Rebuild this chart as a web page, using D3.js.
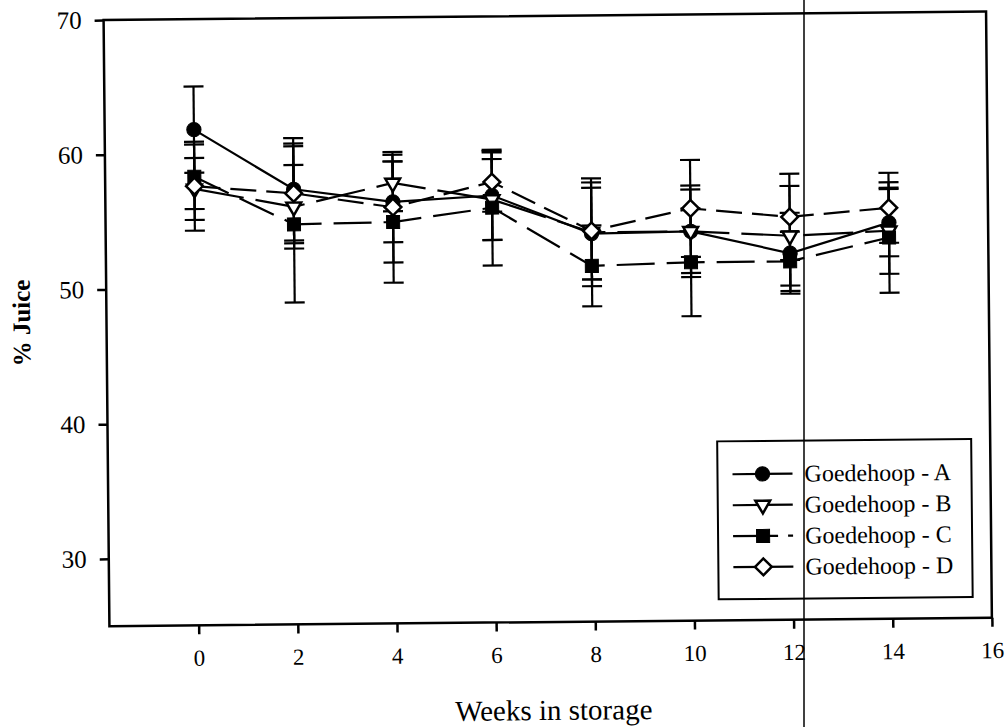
<!DOCTYPE html>
<html>
<head>
<meta charset="utf-8">
<script src="https://cdn.jsdelivr.net/npm/d3@7"></script>
<style>
  html, body { margin: 0; padding: 0; background: #fff; }
  svg { display: block; }
  text { font-family: "Liberation Serif", "Times New Roman", serif; fill: #000; }
</style>
</head>
<body>
<svg id="chart" width="1005" height="727"></svg>
<script>
// Storage weeks (x) and tick labels
const weeks = [0, 2, 4, 6, 8, 10, 12, 14];
const xTicks = [0, 2, 4, 6, 8, 10, 12, 14, 16];
const yTicks = [30, 40, 50, 60, 70];

// Series names
const seriesNames = ["Goedehoop - A", "Goedehoop - B", "Goedehoop - C", "Goedehoop - D"];

// Mean % juice per week
const juiceA = [61.8, 57.3, 56.3, 56.7, 53.8, 53.9, 52.2, 54.4];
const juiceB = [57.4, 56.0, 57.7, 56.4, 53.9, 53.9, 53.5, 53.8];
const juiceC = [58.3, 54.7, 54.8, 55.8, 51.4, 51.6, 51.6, 53.3];
const juiceD = [57.6, 57.0, 55.9, 57.7, 54.0, 55.6, 54.9, 55.5];

// Error (± half-range of the bars)
const errA = [3.2, 3.8, 3.0, 3.3, 3.4, 3.4, 3.0, 2.5];
const errB = [2.3, 3.1, 2.1, 3.0, 4.0, 3.1, 3.7, 3.2];
const errC = [2.4, 5.8, 4.5, 4.3, 3.0, 4.0, 2.2, 4.1];
const errD = [3.3, 3.7, 4.1, 2.2, 3.6, 3.6, 3.2, 2.6];

const series = [
  { name: seriesNames[0], values: juiceA, errors: errA },
  { name: seriesNames[1], values: juiceB, errors: errB },
  { name: seriesNames[2], values: juiceC, errors: errC },
  { name: seriesNames[3], values: juiceD, errors: errD }
];

// Visual style per series
const styles = [
  { dash: null,    symbol: "circle" },
  { dash: "50,12", symbol: "triangleDown" },
  { dash: "38,12", symbol: "square" },
  { dash: "26,10", symbol: "diamond" }
];

const W = 1005, H = 727;
const svg = d3.select("#chart");
svg.append("rect").attr("width", W).attr("height", H).attr("fill", "#fff");

const plot = { left: 106.5, right: 989, top: 15.8, bottom: 622 };
const x = d3.scaleLinear().domain([-1.8, 16]).range([plot.left, plot.right]);
const y = d3.scaleLinear().domain([25, 70]).range([plot.bottom, plot.top]);

// whole figure sits slightly tilted on the page
const g = svg.append("g").attr("transform", "rotate(-0.55 547 320)");

// frame
g.append("rect")
  .attr("x", plot.left).attr("y", plot.top)
  .attr("width", plot.right - plot.left).attr("height", plot.bottom - plot.top)
  .attr("fill", "none").attr("stroke", "#000").attr("stroke-width", 2.5);

// axes
const xAxis = d3.axisBottom(x).tickValues(xTicks).tickSize(9).tickPadding(15).tickFormat(d3.format("d"));
const yAxis = d3.axisLeft(y).tickValues(yTicks).tickSize(9).tickPadding(13).tickFormat(d3.format("d"));

const gx = g.append("g").attr("transform", `translate(0,${plot.bottom})`).call(xAxis);
const gy = g.append("g").attr("transform", `translate(${plot.left},0)`).call(yAxis);
[[gx, 23], [gy, 25]].forEach(([a, fs]) => {
  a.attr("font-size", null).attr("font-family", null);
  a.select(".domain").remove();
  a.selectAll(".tick line").attr("stroke", "#000").attr("stroke-width", 2.5);
  a.selectAll(".tick text")
    .attr("fill", "#000")
    .attr("font-size", fs)
    .style("font-family", '"Liberation Serif", "Times New Roman", serif')
    .style("font-size", fs + "px");
});

// axis titles
g.append("text")
  .attr("x", 550).attr("y", 720)
  .attr("text-anchor", "middle")
  .style("font-size", "29px")
  .text("Weeks in storage");

g.append("text")
  .attr("transform", "translate(30,318) rotate(-90)")
  .attr("text-anchor", "middle")
  .style("font-size", "25px")
  .style("font-weight", "bold")
  .text("% Juice");

// marker shapes
function markerPath(kind) {
  switch (kind) {
    case "circle": return d3.symbol(d3.symbolCircle, 160)();
    case "square": return d3.symbol(d3.symbolSquare, 170)();
    case "diamond": return d3.symbol(d3.symbolSquare, 140)();
    case "triangleDown": return d3.symbol(d3.symbolTriangle, 95)();
  }
}
function markerTransform(kind, px, py) {
  if (kind === "diamond") return `translate(${px},${py}) rotate(45)`;
  if (kind === "triangleDown") return `translate(${px},${py}) rotate(180)`;
  return `translate(${px},${py})`;
}
function drawMarker(sel, kind, px, py) {
  const filled = kind === "circle" || kind === "square";
  sel.append("path")
    .attr("d", markerPath(kind))
    .attr("transform", markerTransform(kind, px, py))
    .attr("fill", filled ? "#000" : "#fff")
    .attr("stroke", "#000")
    .attr("stroke-width", filled ? 1 : 2.5);
}

const line = d3.line().x(d => x(d.w)).y(d => y(d.v));

// connecting lines
series.forEach((s, i) => {
  const pts = weeks.map((w, k) => ({ w, v: s.values[k] }));
  g.append("path")
    .datum(pts)
    .attr("d", line)
    .attr("fill", "none")
    .attr("stroke", "#000")
    .attr("stroke-width", 2.2)
    .attr("stroke-dasharray", styles[i].dash);
});

// error bars
const capHalf = 10;
series.forEach(s => {
  const eb = g.append("g").attr("stroke", "#000").attr("stroke-width", 2.2);
  weeks.forEach((w, k) => {
    const lo = s.values[k] - s.errors[k], hi = s.values[k] + s.errors[k];
    const cx = x(w);
    eb.append("line").attr("x1", cx).attr("x2", cx).attr("y1", y(lo)).attr("y2", y(hi));
    eb.append("line").attr("x1", cx - capHalf).attr("x2", cx + capHalf).attr("y1", y(lo)).attr("y2", y(lo));
    eb.append("line").attr("x1", cx - capHalf).attr("x2", cx + capHalf).attr("y1", y(hi)).attr("y2", y(hi));
  });
});

// markers
series.forEach((s, i) => {
  const mg = g.append("g");
  weeks.forEach((w, k) => drawMarker(mg, styles[i].symbol, x(w), y(s.values[k])));
});

// legend
const leg = g.append("g");
leg.append("rect")
  .attr("x", 716).attr("y", 443).attr("width", 254).attr("height", 158)
  .attr("fill", "#fff").attr("stroke", "#000").attr("stroke-width", 2);
series.forEach((s, i) => {
  const ly = 476 + i * 31;
  leg.append("line")
    .attr("x1", 731).attr("x2", 791).attr("y1", ly).attr("y2", ly)
    .attr("stroke", "#000").attr("stroke-width", 2.2)
    .attr("stroke-dasharray", i === 2 ? "45,10,5,20" : null);
  drawMarker(leg, styles[i].symbol, 761, ly);
  leg.append("text")
    .attr("x", 803).attr("y", ly + 8)
    .style("font-size", "24px")
    .text(s.name);
});

// straight vertical rule crossing the page
svg.append("line")
  .attr("x1", 804).attr("x2", 804).attr("y1", 0).attr("y2", H)
  .attr("stroke", "#000").attr("stroke-width", 1.5);
</script>
</body>
</html>
